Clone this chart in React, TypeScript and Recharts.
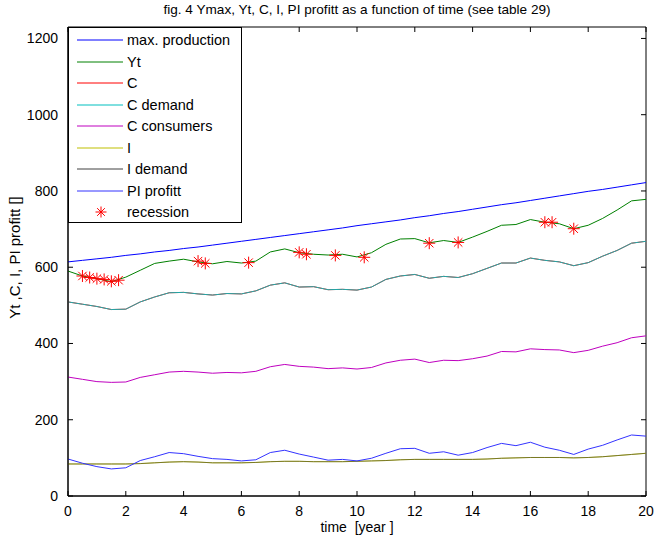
import { ComposedChart, Line, Scatter, XAxis, YAxis, ReferenceArea } from 'recharts'

const years = [
  0, 0.5, 1, 1.5, 2, 2.5, 3, 3.5, 4, 4.5, 5, 5.5, 6, 6.5, 7, 7.5, 8, 8.5, 9, 9.5, 10,
  10.5, 11, 11.5, 12, 12.5, 13, 13.5, 14, 14.5, 15, 15.5, 16, 16.5, 17, 17.5, 18, 18.5, 19, 19.5, 20,
]

const maxProduction = [
  614, 618, 622, 626, 631, 635, 640, 644, 649, 653, 658, 663, 668, 673, 678, 683, 688, 693, 698, 703, 709,
  714, 719, 724, 730, 735, 741, 746, 752, 758, 764, 769, 775, 781, 787, 793, 799, 804, 810, 816, 822,
]

const yt = [
  590, 577, 570, 562, 574, 592, 610, 616, 621, 614, 609, 615, 611, 616, 640, 648, 638, 634, 632, 634, 627,
  638, 660, 674, 675, 664, 670, 665, 679, 694, 710, 712, 725, 718, 714, 701, 710, 728, 750, 774, 778,
]

const cSupply = [
  509, 503, 497, 489, 490, 509, 522, 533, 534, 530, 527, 531, 530, 538, 553, 559, 548, 549, 541, 542, 540,
  548, 568, 577, 581, 571, 576, 573, 583, 597, 611, 611, 624, 618, 614, 604, 612, 629, 644, 663, 668,
]

const cDemand = [
  509, 503, 497, 489, 490, 509, 522, 533, 534, 530, 527, 531, 530, 538, 553, 559, 548, 549, 541, 542, 540,
  548, 568, 577, 581, 571, 576, 573, 583, 597, 611, 611, 624, 618, 614, 604, 612, 629, 644, 663, 668,
]

const cConsumers = [
  312, 306, 300, 298, 299, 311, 318, 325, 327, 325, 322, 324, 323, 327, 339, 345, 340, 338, 334, 336, 333,
  337, 349, 356, 359, 350, 356, 355, 360, 367, 379, 378, 386, 384, 383, 376, 382, 393, 402, 415, 420,
]

const investment = [
  84, 84, 84, 84, 84, 85, 87, 89, 90, 89, 87, 87, 87, 88, 90, 91, 91, 90, 90, 90, 91,
  92, 93, 95, 96, 96, 96, 96, 96, 97, 99, 100, 101, 101, 101, 100, 101, 103, 106, 109, 112,
]

const investmentDemand = [
  84, 84, 84, 84, 84, 85, 87, 89, 90, 89, 87, 87, 87, 88, 90, 91, 91, 90, 90, 90, 91,
  92, 93, 95, 96, 96, 96, 96, 96, 97, 99, 100, 101, 101, 101, 100, 101, 103, 106, 109, 112,
]

const piProfit = [
  97, 86, 77, 71, 74, 93, 103, 114, 111, 104, 98, 96, 92, 95, 114, 120, 110, 102, 94, 96, 92,
  99, 112, 124, 125, 112, 116, 107, 114, 127, 138, 132, 141, 128, 120, 109, 123, 133, 147, 160, 157,
]

const recessionYears = [0.5, 0.75, 1, 1.25, 1.5, 1.75, 4.5, 4.75, 6.25, 8, 8.25, 9.25, 10.25, 12.5, 13.5, 16.5, 16.75, 17.5]
const recessionValues = [577, 573, 570, 568, 563, 566, 616, 610, 612, 639, 634, 631, 626, 663, 665, 718, 718, 701]

const xTicks = [0, 2, 4, 6, 8, 10, 12, 14, 16, 18, 20]
const yTicks = [0, 200, 400, 600, 800, 1000, 1200]

const FONT = '"Liberation Sans", Arial, Helvetica, sans-serif'
const PLOT = { left: 68, right: 646, top: 27, bottom: 496 }

const SERIES = [
  { key: 'maxProduction', name: 'max. production', color: '#0000ff', opacity: 1 },
  { key: 'yt', name: 'Yt', color: '#008000', opacity: 1 },
  { key: 'cSupply', name: 'C', color: '#ff0000', opacity: 1 },
  { key: 'cDemand', name: 'C demand', color: '#00bfbf', opacity: 0.88 },
  { key: 'cConsumers', name: 'C consumers', color: '#bf00bf', opacity: 1 },
  { key: 'investment', name: 'I', color: '#bfbf00', opacity: 1 },
  { key: 'investmentDemand', name: 'I demand', color: '#404040', opacity: 0.55 },
  { key: 'piProfit', name: 'PI profitt', color: '#3333ff', opacity: 1 },
]

const rows = years.map((t, i) => ({
  t,
  maxProduction: maxProduction[i],
  yt: yt[i],
  cSupply: cSupply[i],
  cDemand: cDemand[i],
  cConsumers: cConsumers[i],
  investment: investment[i],
  investmentDemand: investmentDemand[i],
  piProfit: piProfit[i],
}))

const recessions = recessionYears.map((t, i) => ({ t, v: recessionValues[i] }))

function Star({ cx, cy, r = 6 }: { cx?: number; cy?: number; r?: number }) {
  if (cx == null || cy == null) return null
  const d = r * 0.7
  return (
    <g stroke="#ff0000" strokeWidth={1}>
      <line x1={cx - r} y1={cy} x2={cx + r} y2={cy} />
      <line x1={cx} y1={cy - r} x2={cx} y2={cy + r} />
      <line x1={cx - d} y1={cy - d} x2={cx + d} y2={cy + d} />
      <line x1={cx - d} y1={cy + d} x2={cx + d} y2={cy - d} />
    </g>
  )
}

function XTick({ x, payload }: any) {
  return (
    <g>
      <line x1={x} x2={x} y1={PLOT.bottom} y2={PLOT.bottom - 5} stroke="#000" />
      <line x1={x} x2={x} y1={PLOT.top} y2={PLOT.top + 5} stroke="#000" />
      <text x={x} y={PLOT.bottom + 20} textAnchor="middle" fontSize={14} fontFamily={FONT} fill="#000">
        {payload.value}
      </text>
    </g>
  )
}

function YTick({ y, payload }: any) {
  return (
    <g>
      <line x1={PLOT.left} x2={PLOT.left + 5} y1={y} y2={y} stroke="#000" />
      <line x1={PLOT.right} x2={PLOT.right - 5} y1={y} y2={y} stroke="#000" />
      <text x={PLOT.left - 10} y={y + 5} textAnchor="end" fontSize={14} fontFamily={FONT} fill="#000">
        {payload.value}
      </text>
    </g>
  )
}

function LegendBox() {
  return (
    <div
      style={{
        position: 'absolute',
        left: PLOT.left,
        top: PLOT.top,
        width: 174,
        height: 196,
        boxSizing: 'border-box',
        border: '1px solid #000',
        background: '#fff',
        paddingTop: 1.5,
        fontFamily: FONT,
        fontSize: 14.5,
      }}
    >
      {[...SERIES.map((s) => ({ ...s, star: false })), { key: 'recession', name: 'recession', color: '#ff0000', opacity: 1, star: true }].map((s) => (
        <div key={s.key} style={{ height: 21.5, display: 'flex', alignItems: 'center' }}>
          <svg width={58} height={14} style={{ flex: 'none' }}>
            {s.star ? (
              <Star cx={32} cy={7} r={5.5} />
            ) : (
              <line x1={8} x2={54} y1={7} y2={7} stroke={s.color} strokeWidth={1} />
            )}
          </svg>
          <span style={{ whiteSpace: 'nowrap' }}>{s.name}</span>
        </div>
      ))}
    </div>
  )
}

export default function App() {
  return (
    <div style={{ position: 'absolute', left: 0, top: 0, width: 655, height: 540, background: '#fff', fontFamily: FONT }}>
      <div
        style={{
          position: 'absolute',
          left: PLOT.left,
          width: PLOT.right - PLOT.left,
          top: 2,
          textAlign: 'center',
          fontSize: 13.6,
          color: '#000',
        }}
      >
        fig. 4 Ymax, Yt, C, I, PI profitt as a function of time (see table 29)
      </div>

      <ComposedChart
        width={655}
        height={540}
        data={rows}
        margin={{ top: PLOT.top, right: 655 - PLOT.right, bottom: 14, left: 8 }}
      >
        <XAxis
          dataKey="t"
          type="number"
          domain={[0, 20]}
          ticks={xTicks}
          allowDataOverflow
          height={30}
          tickSize={0}
          tick={<XTick />}
          axisLine={{ stroke: '#000' }}
          interval={0}
        />
        <YAxis
          type="number"
          domain={[0, 1230]}
          ticks={yTicks}
          allowDataOverflow
          width={60}
          tickSize={0}
          tick={<YTick />}
          axisLine={{ stroke: '#000' }}
          interval={0}
        />
        <ReferenceArea x1={0} x2={20} y1={0} y2={1230} fill="none" stroke="#000" strokeWidth={1} />
        {SERIES.map((s) => (
          <Line
            key={s.key}
            type="linear"
            dataKey={s.key}
            name={s.name}
            stroke={s.color}
            strokeOpacity={s.opacity}
            strokeWidth={1}
            dot={false}
            activeDot={false}
            isAnimationActive={false}
          />
        ))}
        <Scatter data={recessions} dataKey="v" name="recession" shape={<Star />} isAnimationActive={false} />
      </ComposedChart>

      <LegendBox />

      <div
        style={{
          position: 'absolute',
          left: 14 - 150,
          top: 258 - 9,
          width: 300,
          textAlign: 'center',
          fontSize: 15,
          transform: 'rotate(-90deg)',
          whiteSpace: 'pre',
        }}
      >
        Yt ,C, I, PI profitt []
      </div>

      <div
        style={{
          position: 'absolute',
          left: PLOT.left,
          width: PLOT.right - PLOT.left,
          top: 519,
          textAlign: 'center',
          fontSize: 14,
          whiteSpace: 'pre',
        }}
      >
        time  [year ]
      </div>
    </div>
  )
}
